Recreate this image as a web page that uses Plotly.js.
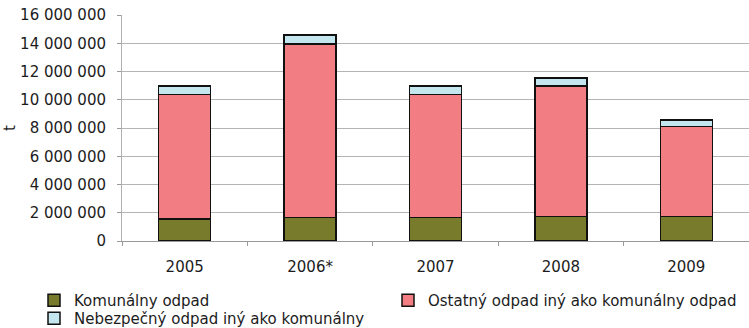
<!DOCTYPE html>
<html>
<head>
<meta charset="utf-8">
<script src="https://cdn.plot.ly/plotly-3.0.1.min.js"></script>
<style>
  html, body { margin: 0; padding: 0; background: #fff; }
  #chart { width: 749px; height: 328px; }
</style>
</head>
<body>
<div id="chart"></div>
<script>
// Produkcia odpadu podľa druhu (t)
const years = ['2005', '2006*', '2007', '2008', '2009'];
const komunalny = [1550000, 1660000, 1660000, 1750000, 1750000];
const ostatny = [8830000, 12270000, 8720000, 9240000, 6340000];
const nebezpecny = [590000, 660000, 590000, 550000, 470000];

const seriesNames = [
  'Komunálny odpad',
  'Ostatný odpad iný ako komunálny odpad',
  'Nebezpečný odpad iný ako komunálny'
];
const seriesColors = ['#787b2c', '#f27e83', '#c4e6ef'];
const yTicks = [0, 2000000, 4000000, 6000000, 8000000, 10000000, 12000000, 14000000, 16000000];

const FAMILY = 'DejaVu Sans, Liberation Sans, Arial, sans-serif';
const font = (size) => ({ family: FAMILY, size: size, color: '#1c1c1c' });

const seriesValues = [komunalny, ostatny, nebezpecny];
const legendIds = ['legend', 'legend2', 'legend3'];

const traces = seriesValues.map((vals, i) => ({
  type: 'bar',
  name: seriesNames[i],
  x: years,
  y: vals,
  legend: legendIds[i],
  marker: { color: seriesColors[i], line: { color: '#111', width: 1.5 } },
  hoverinfo: 'skip'
}));

// one legend per series so each entry sits in its own slot
const legendAt = (x, y) => ({
  orientation: 'h',
  xref: 'container', yref: 'container',
  x: x / 749, y: y / 328,
  xanchor: 'left', yanchor: 'middle',
  bgcolor: 'rgba(0,0,0,0)', borderwidth: 0,
  font: font(15), itemclick: false, itemdoubleclick: false
});

const layout = {
  width: 749, height: 328,
  margin: { l: 122, r: 0, t: 15, b: 87 },
  paper_bgcolor: '#fff', plot_bgcolor: '#fff',
  font: font(15),
  separators: ', ',
  barmode: 'stack',
  bargap: 0.585,
  xaxis: {
    type: 'category',
    showline: true, linecolor: '#9a9a9a', linewidth: 1,
    ticks: 'outside', tickson: 'boundaries', ticklen: 4, tickcolor: '#9a9a9a',
    tickfont: font(15),
    ticklabelstandoff: 12,
    showgrid: false, zeroline: false,
    fixedrange: true
  },
  yaxis: {
    range: [0, 16000000],
    tickvals: yTicks,
    tickformat: ',d',
    showline: true, linecolor: '#b0b0b0', linewidth: 1,
    ticks: 'outside', ticklen: 4, tickcolor: '#9a9a9a',
    tickfont: font(15),
    ticklabelstandoff: 8,
    showgrid: true, gridcolor: '#b4b4b4', gridwidth: 1,
    zeroline: false,
    title: { text: 't', font: font(15), standoff: 0 },
    fixedrange: true
  },
  showlegend: true,
  legend: legendAt(34, 27.5),
  legend2: legendAt(388, 27.5),
  legend3: legendAt(34, 9.5)
};

Plotly.newPlot('chart', traces, layout, { staticPlot: true, displayModeBar: false });
</script>
</body>
</html>
